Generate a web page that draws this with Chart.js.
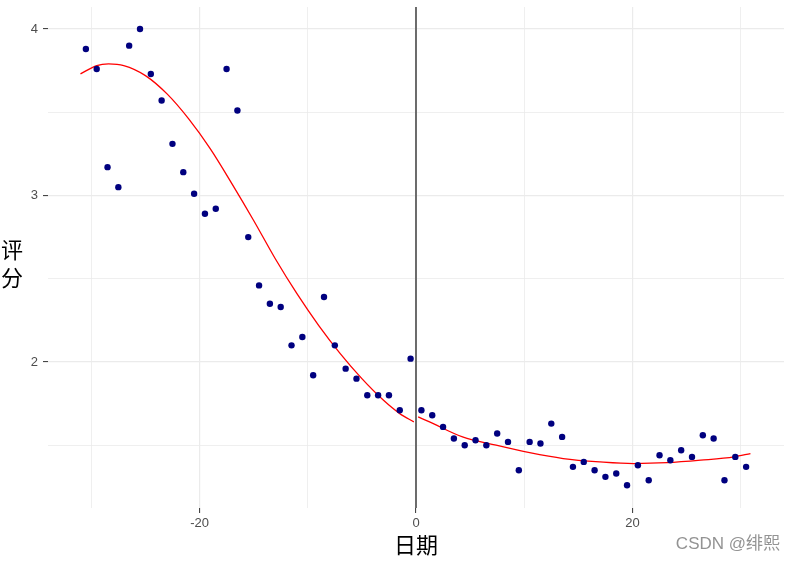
<!DOCTYPE html>
<html>
<head>
<meta charset="utf-8">
<script src="https://cdn.jsdelivr.net/npm/chart.js@4/dist/chart.umd.min.js"></script>
<style>
    html, body { margin: 0; padding: 0; background: #fff; }
    #wrap { width: 794px; height: 563px; }
</style>
</head>
<body>
<div id="wrap"><canvas id="scoreChart" width="794" height="563"></canvas></div>
<script>
// Data
const days = [-30.5, -29.5, -28.5, -27.5, -26.5, -25.5, -24.5, -23.5, -22.5, -21.5,
    -20.5, -19.5, -18.5, -17.5, -16.5, -15.5, -14.5, -13.5, -12.5, -11.5,
    -10.5, -9.5, -8.5, -7.5, -6.5, -5.5, -4.5, -3.5, -2.5, -1.5, -0.5,
    0.5, 1.5, 2.5, 3.5, 4.5, 5.5, 6.5, 7.5, 8.5, 9.5,
    10.5, 11.5, 12.5, 13.5, 14.5, 15.5, 16.5, 17.5, 18.5, 19.5,
    20.5, 21.5, 22.5, 23.5, 24.5, 25.5, 26.5, 27.5, 28.5, 29.5, 30.5];
const scores = [3.88, 3.76, 3.17, 3.05, 3.90, 4.00, 3.73, 3.57, 3.31, 3.14,
    3.01, 2.89, 2.92, 3.76, 3.51, 2.75, 2.46, 2.35, 2.33, 2.10,
    2.15, 1.92, 2.39, 2.10, 1.96, 1.90, 1.80, 1.80, 1.80, 1.71, 2.02,
    1.71, 1.68, 1.61, 1.54, 1.50, 1.53, 1.50, 1.57, 1.52, 1.35,
    1.52, 1.51, 1.63, 1.55, 1.37, 1.40, 1.35, 1.31, 1.33, 1.26,
    1.38, 1.29, 1.44, 1.41, 1.47, 1.43, 1.56, 1.54, 1.29, 1.43, 1.37];

// smoothed fit, before and after day 0
const fitLeftX = [-31, -29.5, -28.4, -27, -25, -23, -21, -19, -17, -15, -13, -11, -9, -7, -5, -3, -1.5, -0.2];
const fitLeftY = [3.73, 3.78, 3.79, 3.78, 3.72, 3.61, 3.46, 3.28, 3.07, 2.85, 2.62, 2.41, 2.22, 2.05, 1.90, 1.77, 1.69, 1.64];
const fitRightX = [0.2, 1.25, 4.3, 7.4, 10.5, 13.6, 17, 20.1, 23.2, 26.3, 29.4, 30.9];
const fitRightY = [1.67, 1.64, 1.55, 1.50, 1.455, 1.42, 1.40, 1.39, 1.395, 1.41, 1.43, 1.45];

const cutoffDay = 0;

const xGrid = [-30, -20, -10, 0, 10, 20, 30];
const xTickLabels = [-20, 0, 20];
const yGrid = [1.5, 2, 2.5, 3, 3.5, 4];
const yTickLabels = [2, 3, 4];

const xTitle = '日期';
const yTitle = ['评', '分'];
const watermark = 'CSDN @绯熙';

function toPoints(xs, ys) {
    return xs.map((x, i) => ({ x: x, y: ys[i] }));
}

const decorPlugin = {
    id: 'decor',
    afterDatasetsDraw(chart) {
        const ctx = chart.ctx;
        const area = chart.chartArea;
        const px = chart.scales.x.getPixelForValue(cutoffDay);
        ctx.save();
        ctx.strokeStyle = '#5e5e5e';
        ctx.lineWidth = 1.8;
        ctx.beginPath();
        ctx.moveTo(px, area.top);
        ctx.lineTo(px, area.bottom);
        ctx.stroke();
        ctx.restore();
    },
    afterDraw(chart) {
        const ctx = chart.ctx;
        const area = chart.chartArea;
        ctx.save();
        ctx.fillStyle = '#000';
        ctx.textAlign = 'center';
        ctx.textBaseline = 'middle';
        ctx.font = '22px "Noto Sans CJK SC"';
        ctx.fillText(xTitle, (area.left + area.right) / 2, 545);
        ctx.fillText(yTitle[0], 12, 250);
        ctx.fillText(yTitle[1], 12, 278);

        ctx.font = '17px "Liberation Sans", "Noto Sans CJK SC"';
        ctx.fillStyle = '#939393';
        ctx.textAlign = 'right';
        ctx.fillText(watermark, 780, 544);
        ctx.restore();
    }
};

new Chart(document.getElementById('scoreChart'), {
    type: 'scatter',
    data: {
        datasets: [
            {
                label: 'score',
                data: toPoints(days, scores),
                backgroundColor: '#00007f',
                borderColor: '#00007f',
                pointRadius: 3.2,
                pointBorderWidth: 0,
                order: 0
            },
            {
                label: 'fit left',
                data: toPoints(fitLeftX, fitLeftY),
                showLine: true,
                borderColor: '#ff0000',
                borderWidth: 1.3,
                pointRadius: 0,
                cubicInterpolationMode: 'monotone',
                order: 1
            },
            {
                label: 'fit right',
                data: toPoints(fitRightX, fitRightY),
                showLine: true,
                borderColor: '#ff0000',
                borderWidth: 1.3,
                pointRadius: 0,
                cubicInterpolationMode: 'monotone',
                order: 1
            }
        ]
    },
    options: {
        responsive: false,
        animation: false,
        layout: {
            padding: { top: 7, right: 10, bottom: 0, left: 0 }
        },
        plugins: {
            legend: { display: false },
            tooltip: { enabled: false }
        },
        scales: {
            x: {
                type: 'linear',
                min: -34,
                max: 34,
                afterBuildTicks: function (scale) {
                    scale.ticks = xGrid.map(v => ({ value: v }));
                },
                afterFit: function (scale) {
                    scale.height = 55;
                },
                border: { display: false },
                grid: {
                    color: '#ebebeb',
                    lineWidth: ctx => xTickLabels.includes(ctx.tick && ctx.tick.value) ? 1.2 : 0.8,
                    tickLength: 5,
                    tickWidth: 1,
                    tickColor: ctx => xTickLabels.includes(ctx.tick && ctx.tick.value) ? '#333333' : 'rgba(0,0,0,0)'
                },
                ticks: {
                    autoSkip: false,
                    maxRotation: 0,
                    padding: 3,
                    color: '#4d4d4d',
                    font: { family: '"Liberation Sans", Arial', size: 13 },
                    callback: function (value) {
                        return xTickLabels.includes(value) ? String(value) : '';
                    }
                }
            },
            y: {
                type: 'linear',
                min: 1.123,
                max: 4.132,
                afterBuildTicks: function (scale) {
                    scale.ticks = yGrid.map(v => ({ value: v }));
                },
                afterFit: function (scale) {
                    scale.width = 48;
                    scale.paddingTop = 0;
                    scale.paddingBottom = 0;
                },
                border: { display: false },
                grid: {
                    color: '#ebebeb',
                    lineWidth: ctx => yTickLabels.includes(ctx.tick && ctx.tick.value) ? 1.2 : 0.8,
                    tickLength: 5,
                    tickWidth: 1,
                    tickColor: ctx => yTickLabels.includes(ctx.tick && ctx.tick.value) ? '#333333' : 'rgba(0,0,0,0)'
                },
                ticks: {
                    autoSkip: false,
                    padding: 5,
                    color: '#4d4d4d',
                    font: { family: '"Liberation Sans", Arial', size: 13 },
                    callback: function (value) {
                        return yTickLabels.includes(value) ? String(value) : '';
                    }
                }
            }
        }
    },
    plugins: [decorPlugin]
});
</script>
</body>
</html>
